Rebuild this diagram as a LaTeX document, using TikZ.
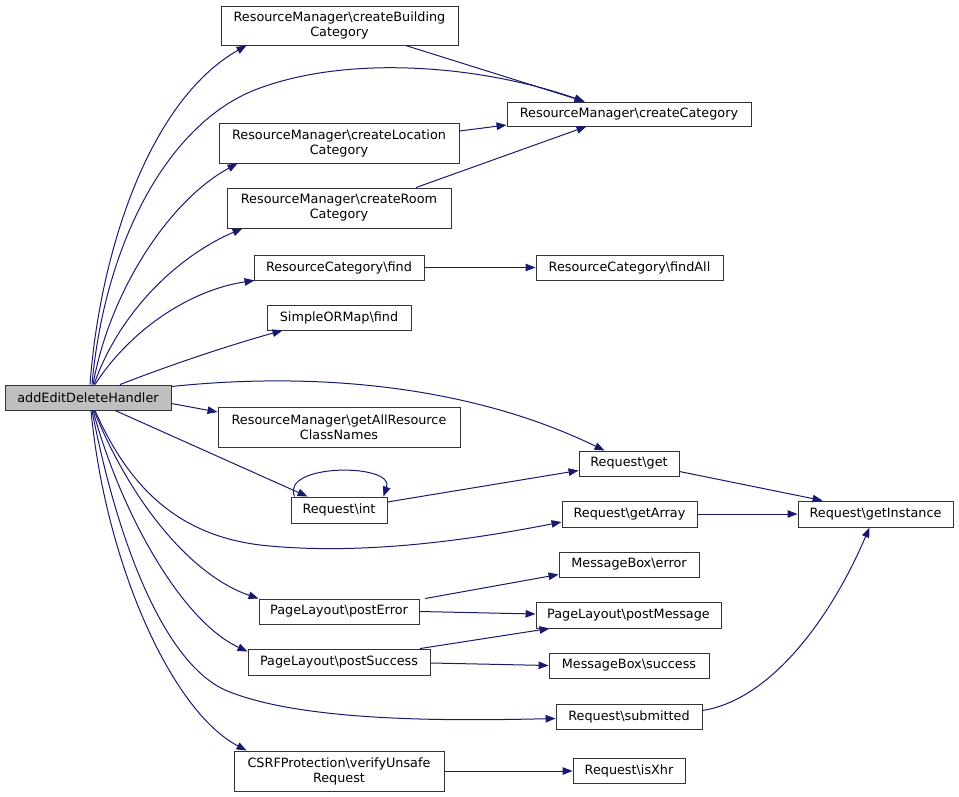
\documentclass[tikz,border=0pt]{standalone}
\usepackage{fontspec}
\setmainfont{DejaVu Sans}
\usetikzlibrary{arrows.meta,calc}
\definecolor{edgecol}{HTML}{191970}
\definecolor{boxline}{HTML}{333333}
\definecolor{rootfill}{HTML}{BFBFBF}
\tikzset{
  fn/.style={draw=boxline, line width=0.9pt, fill=white, inner sep=0pt, align=center,
    font=\fontsize{12.8}{15}\selectfont},
  root/.style={fn, fill=rootfill},
  call/.style={draw=edgecol, line width=1pt, -{Triangle[length=10pt,width=7.5pt]}}
}
\newcommand{\bs}{\textbackslash}
\begin{document}
\begin{tikzpicture}[x=1pt,y=-1pt]
\useasboundingbox (0,0) rectangle (959,797);
% nodes
\node[root, minimum width=166pt, minimum height=25pt] (A) at (88,397.5) {addEditDeleteHandler};
\node[fn, minimum width=237pt, minimum height=39pt] (cb) at (339.5,25.5) {ResourceManager\bs createBuilding\\Category};
\node[fn, minimum width=244pt, minimum height=24pt] (cc) at (629,114) {ResourceManager\bs createCategory};
\node[fn, minimum width=240pt, minimum height=40pt] (cl) at (339,143) {ResourceManager\bs createLocation\\Category};
\node[fn, minimum width=224pt, minimum height=40pt] (cr) at (339,208) {ResourceManager\bs createRoom\\Category};
\node[fn, minimum width=170pt, minimum height=25pt] (rf) at (339,267.5) {ResourceCategory\bs find};
\node[fn, minimum width=187pt, minimum height=25pt] (fa) at (629.5,267.5) {ResourceCategory\bs findAll};
\node[fn, minimum width=144pt, minimum height=25pt] (sf) at (339,317.5) {SimpleORMap\bs find};
\node[fn, minimum width=242pt, minimum height=40pt] (ga) at (339,427) {ResourceManager\bs getAllResource\\ClassNames};
\node[fn, minimum width=100pt, minimum height=25pt] (get) at (629,463.5) {Request\bs get};
\node[fn, minimum width=96pt, minimum height=26pt] (int) at (339,510) {Request\bs int};
\node[fn, minimum width=135pt, minimum height=26pt] (gar) at (629.5,514) {Request\bs getArray};
\node[fn, minimum width=155pt, minimum height=26pt] (gi) at (875.5,514) {Request\bs getInstance};
\node[fn, minimum width=140pt, minimum height=25pt] (me) at (629,564.5) {MessageBox\bs error};
\node[fn, minimum width=160pt, minimum height=25pt] (pe) at (339,611.5) {PageLayout\bs postError};
\node[fn, minimum width=185pt, minimum height=26pt] (pm) at (628.5,615) {PageLayout\bs postMessage};
\node[fn, minimum width=182pt, minimum height=26pt] (ps) at (339,662) {PageLayout\bs postSuccess};
\node[fn, minimum width=160pt, minimum height=25pt] (ms) at (629,665.5) {MessageBox\bs success};
\node[fn, minimum width=146pt, minimum height=25pt] (sub) at (629,716.5) {Request\bs submitted};
\node[fn, minimum width=210pt, minimum height=40pt] (csrf) at (339,771) {CSRFProtection\bs verifyUnsafe\\Request};
\node[fn, minimum width=112pt, minimum height=25pt] (xhr) at (629,771) {Request\bs isXhr};
% edges
\draw[call] ($(A.north)+(2,0)$) .. controls (100,250) and (150,100) .. ($(cb.south west)+(26,0)$);
\draw[call] ($(A.north)+(4,0)$) .. controls (105,240) and (170,120) .. (260,88) .. controls (350,55) and (480,65) .. ($(cc.north west)+(78,0)$);
\draw[call] ($(cb.south)+(66,0)$) -- ($(cc.north west)+(78,0)$);
\draw[call] ($(A.north)+(5,0)$) .. controls (110,290) and (170,200) .. ($(cl.south west)+(19,0)$);
\draw[call] ($(cl.east)+(0,-12)$) -- ($(cc.west)+(0,11)$);
\draw[call] ($(cr.north)+(77,0)$) -- ($(cc.south west)+(80,0)$);
\draw[call] ($(A.north)+(6,0)$) .. controls (120,310) and (180,255) .. ($(cr.south west)+(16,0)$);
\draw[call] ($(A.north)+(7,0)$) .. controls (130,330) and (190,290) .. ($(rf.south west)+(1,0)$);
\draw[call] (rf.east) -- (fa.west);
\draw[call] ($(A.north)+(32,0)$) .. controls (170,365) and (230,345) .. ($(sf.south west)+(16,0)$);
\draw[call] ($(A.east)+(0,6)$) -- ($(ga.west)+(0,-15)$);
\draw[call] ($(A.east)+(0,-11)$) .. controls (330,370) and (480,390) .. ($(get.north west)+(26,0)$);
\draw[call] ($(A.south)+(27,0)$) -- ($(int.north west)+(17,0)$);
\draw[call] ($(int.north west)+(4,0)$) .. controls (280,463) and (395,463) .. ($(int.north east)+(-4,0)$);
\draw[call] ($(int.east)+(0,-8)$) -- ($(get.west)+(0,7)$);
\draw[call] ($(A.south)+(7,0)$) .. controls (130,490) and (180,535) .. (260,545) .. controls (360,556) and (470,540) .. ($(gar.west)+(0,8)$);
\draw[call] ($(get.east)+(0,8)$) -- ($(gi.north west)+(25,0)$);
\draw[call] (gar.east) -- (gi.west);
\draw[call] ($(A.south)+(6,0)$) .. controls (130,500) and (190,575) .. (pe.north west);
\draw[call] ($(pe.north)+(86,0)$) -- ($(me.west)+(0,10)$);
\draw[call] (pe.east) -- ($(pm.west)+(0,-1)$);
\draw[call] ($(A.south)+(5,0)$) .. controls (120,510) and (180,620) .. ($(ps.north west)+(0,3)$);
\draw[call] ($(ps.north)+(81,0)$) -- ($(pm.south west)+(14,0)$);
\draw[call] ($(ps.east)+(0,1)$) -- (ms.west);
\draw[call] ($(A.south)+(4,0)$) .. controls (115,530) and (160,660) .. (225,690) .. controls (300,722) and (450,721) .. ($(sub.west)+(0,2)$);
\draw[call] ($(sub.east)+(0,-6)$) .. controls (770,700) and (830,620) .. ($(gi.south)+(-6,0)$);
\draw[call] ($(A.south)+(3,0)$) .. controls (105,560) and (170,710) .. ($(csrf.north west)+(13,0)$);
\draw[call] (csrf.east) -- (xhr.west);
\end{tikzpicture}
\end{document}
